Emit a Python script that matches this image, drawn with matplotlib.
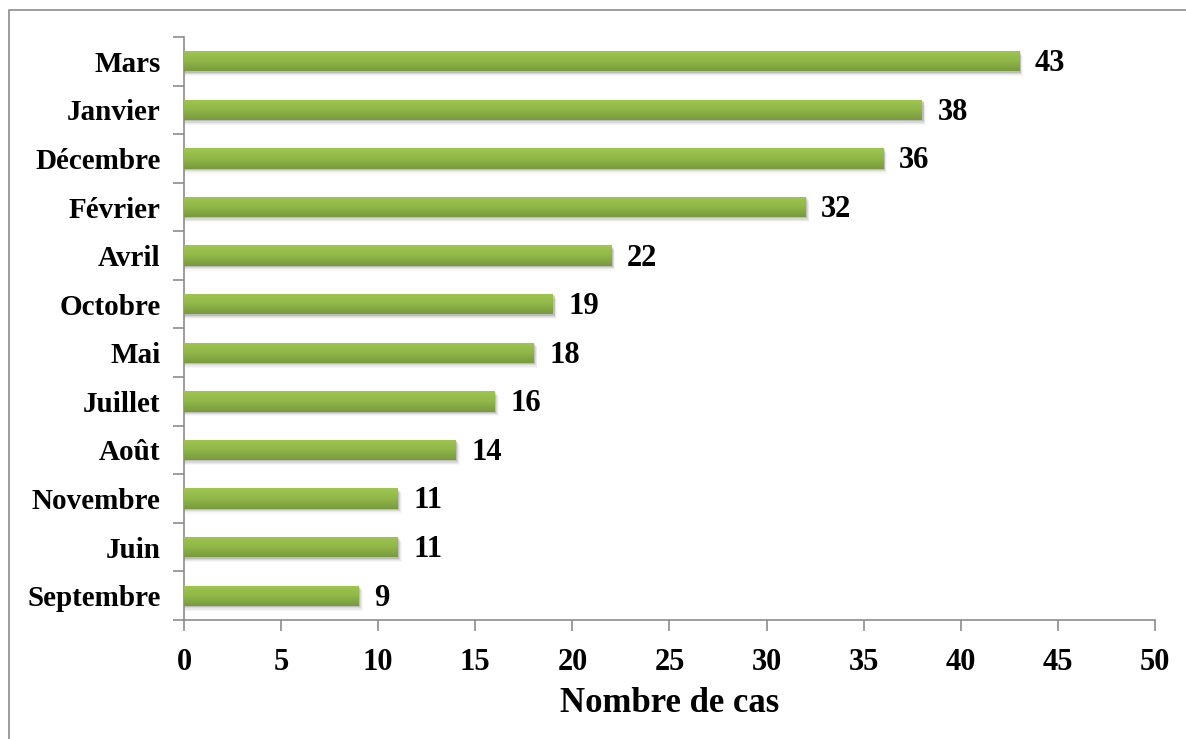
import matplotlib
matplotlib.use("Agg")
import matplotlib.pyplot as plt
import numpy as np
from matplotlib.patches import Rectangle
from matplotlib.colors import LinearSegmentedColormap

months = ["Mars", "Janvier", "Décembre", "Février", "Avril", "Octobre", "Mai",
          "Juillet", "Août", "Novembre", "Juin", "Septembre"]
cases = [43, 38, 36, 32, 22, 19, 18, 16, 14, 11, 11, 9]
xticks = [0, 5, 10, 15, 20, 25, 30, 35, 40, 45, 50]

plt.rcParams['font.family'] = ['Liberation Serif', 'DejaVu Serif']

fig = plt.figure(figsize=(11.86, 7.39), dpi=100)
ax = fig.add_axes([184/1186, 1-620/739, (1155-184)/1186, (620-37)/739])

n = len(months)
ypos = np.arange(n)[::-1]
h = 0.42
cmap = LinearSegmentedColormap.from_list("g", ["#789a3e", "#90b748", "#9fc64e"])
grad = np.linspace(0, 1, 64).reshape(-1, 1)

for y, v in zip(ypos, cases):
    # soft shadow below the bar
    for k, a in enumerate([0.12, 0.08, 0.05, 0.03]):
        ax.add_patch(Rectangle((0, y - h/2 - 0.025 - 0.025*k), v + 0.08 + 0.04*k, h,
                               facecolor="#000000", alpha=a, edgecolor="none", zorder=1))
    bars = ax.barh([y], [v], height=h, color="#90b748", zorder=2)
    im = ax.imshow(grad, aspect="auto", cmap=cmap, origin="lower",
                   extent=[0, v, y - h/2, y + h/2], zorder=3)
    im.set_clip_path(bars[0])
    ax.text(v + 0.8, y - 0.05, str(v), va="center", ha="left",
            fontsize=22, fontweight="bold", color="black")

ax.set_xlim(0, 50)
ax.set_ylim(-0.5, n - 0.5)
ax.set_yticks(ypos)
ax.set_yticklabels(months, fontsize=21, fontweight="bold")
ax.set_yticks(np.arange(-0.5, n, 1.0), minor=True)
ax.tick_params(axis="y", which="major", length=0, pad=17)
ax.tick_params(axis="y", which="minor", length=8, width=1.2, color="#8c8c8c")
ax.set_xticks(xticks)
ax.set_xticklabels([str(t) for t in xticks], fontsize=22, fontweight="bold")
ax.tick_params(axis="x", length=8, width=1.2, color="#8c8c8c", pad=12)
for s in ["top", "right"]:
    ax.spines[s].set_visible(False)
for s in ["left", "bottom"]:
    ax.spines[s].set_color("#8c8c8c")
    ax.spines[s].set_linewidth(1.2)
ax.set_xlabel("Nombre de cas", fontsize=25, fontweight="bold", labelpad=7)

fig.patches.append(Rectangle((9/1186, -0.01), 1.02, 1 - 10/739 + 0.01,
                             transform=fig.transFigure, fill=False,
                             edgecolor="#8c8c8c", linewidth=1.2))

fig.savefig("out.png", dpi=100)
